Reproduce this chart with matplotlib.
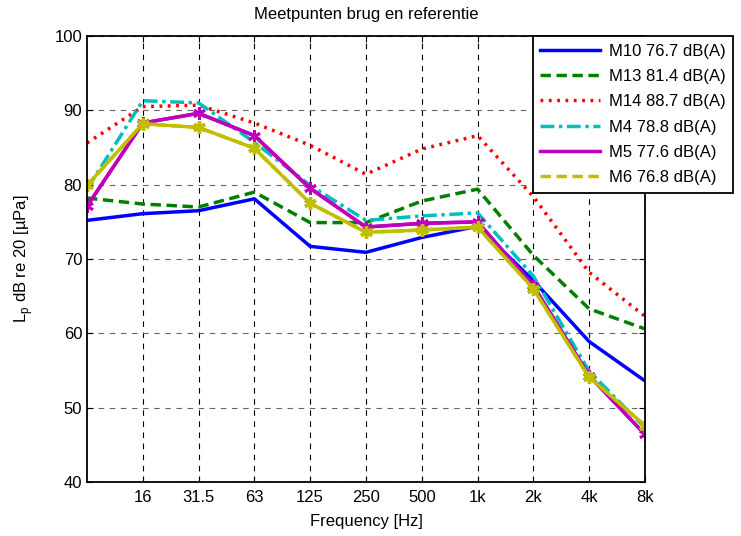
import matplotlib
matplotlib.use("Agg")
import matplotlib.pyplot as plt
import numpy as np

plt.rcParams["font.family"] = ["Liberation Sans", "DejaVu Sans"]

# octave bands (first point has no label)
bands = ["", "16", "31.5", "63", "125", "250", "500", "1k", "2k", "4k", "8k"]

m10 = [75.2, 76.1, 76.5, 78.1, 71.7, 70.9, 72.9, 74.4, 67.1, 58.9, 53.6]
m13 = [78.2, 77.4, 77.0, 79.0, 74.9, 74.9, 77.8, 79.4, 70.5, 63.3, 60.6]
m14 = [85.6, 90.5, 90.7, 88.3, 85.3, 81.4, 84.8, 86.6, 78.4, 68.2, 62.3]
m4 = [79.4, 91.3, 91.0, 85.7, 79.9, 75.2, 75.8, 76.2, 67.7, 54.9, 47.3]
m5 = [77.1, 88.3, 89.6, 86.6, 79.5, 74.3, 74.8, 75.0, 66.4, 54.3, 46.4]
m6 = [79.9, 88.2, 87.7, 84.9, 77.5, 73.6, 73.9, 74.3, 66.0, 54.1, 47.6]

labels = ["M10 76.7 dB(A)", "M13 81.4 dB(A)", "M14 88.7 dB(A)",
          "M4 78.8 dB(A)", "M5 77.6 dB(A)", "M6 76.8 dB(A)"]

x = np.arange(len(bands))
asterisk = (6, 2, 0)
FS = 12

fig = plt.figure(figsize=(7.41, 5.36), dpi=100)
ax = fig.add_axes([0.1174, 0.1007, 0.7530, 0.8321])

ax.plot(x, m10, color="#0000ff", lw=2.5, ls="-", label=labels[0])
ax.plot(x, m13, color="#008000", lw=2.5, ls=(0, (3, 1.6)), label=labels[1])
ax.plot(x, m14, color="#ff0000", lw=2.5, ls=(0, (0.8, 1.6)), label=labels[2])
ax.plot(x, m4, color="#00bfbf", lw=2.5, ls=(0, (4, 1.3, 1, 1.3)), label=labels[3])
ax.plot(x, m5, color="#bf00bf", lw=2.5, ls="-", label=labels[4])
ax.plot(x, m6, color="#bfbf00", lw=2.5, ls=(0, (3, 1.6)), label=labels[5])
# solid overlay with markers, kept out of the legend
ax.plot(x, m5, ls="-", lw=2.5, marker=asterisk, ms=9, mew=2, color="#bf00bf")
ax.plot(x, m6, ls="-", lw=2.5, marker=asterisk, ms=9, mew=2.5, color="#bfbf00")

ax.set_xlim(0, 10)
ax.set_ylim(40, 100)
ax.set_xticks(x[1:])
ax.set_xticklabels(bands[1:], fontsize=FS)
ax.set_yticks(np.arange(40, 101, 10))
ax.tick_params(axis="y", labelsize=FS)
ax.tick_params(direction="in", top=True, right=True, length=4)
ax.tick_params(axis="x", pad=6)
ax.xaxis.grid(True, color="black", ls=(0, (5, 5)), lw=0.8)
ax.yaxis.grid(True, color="#666666", ls=(0, (5, 5)), lw=0.8)
for s in ax.spines.values():
    s.set_linewidth(1.3)

ax.set_title("Meetpunten brug en referentie", fontsize=FS, pad=12)
ax.set_xlabel("Frequency [Hz]", fontsize=FS, labelpad=6)
ax.set_ylabel("L$_\\mathregular{p}$ dB re 20 [µPa]", fontsize=FS, labelpad=14)

leg = ax.legend(loc="upper left", bbox_to_anchor=(0.799, 1.0), fontsize=FS,
                handlelength=3.6, frameon=True, fancybox=False, borderpad=0.45,
                labelspacing=0.62, handletextpad=0.5, borderaxespad=0)
leg.get_frame().set_edgecolor("black")
leg.get_frame().set_linewidth(1.3)
leg.get_frame().set_alpha(1)

fig.savefig("out.png", dpi=100)
